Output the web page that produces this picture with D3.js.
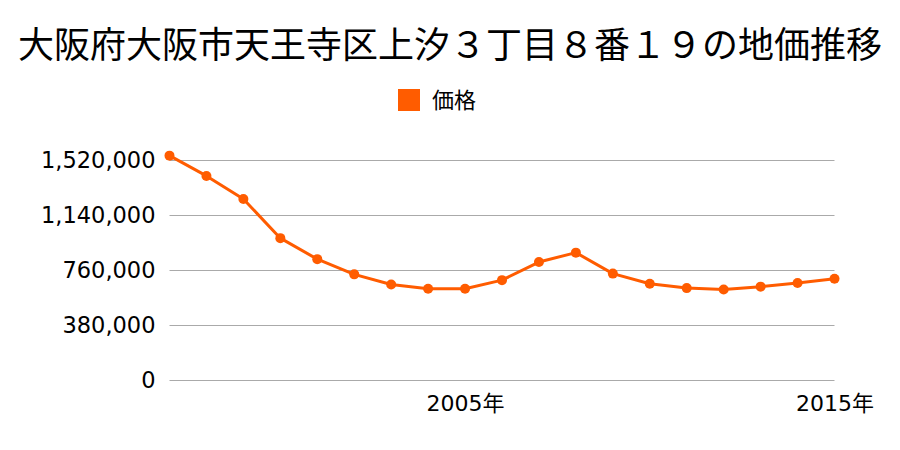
<!DOCTYPE html>
<html><head><meta charset="utf-8">
<script src="https://cdn.jsdelivr.net/npm/d3@7"></script>
<style>body{margin:0;background:#fff;}svg{display:block;}</style>
</head><body>
<script>
const title = "大阪府大阪市天王寺区上汐３丁目８番１９の地価推移";
const seriesName = "価格";
const years = [1997,1998,1999,2000,2001,2002,2003,2004,2005,2006,2007,2008,2009,2010,2011,2012,2013,2014,2015];
const prices = [1550000,1410000,1250000,980000,835000,730000,660000,630000,630000,690000,815000,880000,735000,665000,635000,625000,645000,670000,700000];
const yTicks = [0,380000,760000,1140000,1520000];
const xTickYears = [2005,2015];
const xTickLabels = ["2005年","2015年"];

const W=900,H=450;
const color="#ff5c00";
const font="'Noto Sans CJK JP', 'Noto Sans', sans-serif";
const numFont="'DejaVu Sans', 'Noto Sans CJK JP', sans-serif";
const svg=d3.select("body").append("svg").attr("width",W).attr("height",H);

const x=d3.scaleLinear().domain([1997,2015]).range([169.5,834.5]);
const y=d3.scaleLinear().domain([0,1520000]).range([380,160]);

svg.append("text").attr("x",W/2).attr("y",58).attr("text-anchor","middle")
  .attr("font-family",font).attr("font-size",36).attr("fill","#000").text(title);

// legend
svg.append("rect").attr("x",398).attr("y",89).attr("width",22).attr("height",22).attr("fill",color);
svg.append("text").attr("x",432).attr("y",108).attr("font-family",font).attr("font-size",22).attr("fill","#000").text(seriesName);

// grid
const yAxis=d3.axisLeft(y).tickValues(yTicks).tickSize(-(834.5-169.5)).tickPadding(14)
  .tickFormat(d3.format(","));
const gy=svg.append("g").attr("transform","translate(169.5,0)").call(yAxis);
gy.select(".domain").remove();
gy.selectAll(".tick line").attr("stroke","#aaa").attr("stroke-width",1);
gy.selectAll(".tick text").attr("font-family",numFont).attr("font-size",22.5).attr("fill","#000");

const xAxis=d3.axisBottom(x).tickValues(xTickYears).tickSize(0).tickPadding(15)
  .tickFormat((d,i)=>xTickLabels[i]);
const gx=svg.append("g").attr("transform","translate(0,380)").call(xAxis);
gx.select(".domain").remove();
gx.selectAll(".tick text").attr("font-family",numFont).attr("font-size",22).attr("fill","#000");

const line=d3.line().x((d,i)=>x(years[i])).y(d=>y(d));
svg.append("path").datum(prices).attr("d",line).attr("fill","none")
  .attr("stroke",color).attr("stroke-width",3).attr("stroke-linejoin","round");
svg.selectAll("circle.pt").data(prices).enter().append("circle")
  .attr("cx",(d,i)=>x(years[i])).attr("cy",d=>y(d)).attr("r",5).attr("fill",color);
</script>
</body></html>
